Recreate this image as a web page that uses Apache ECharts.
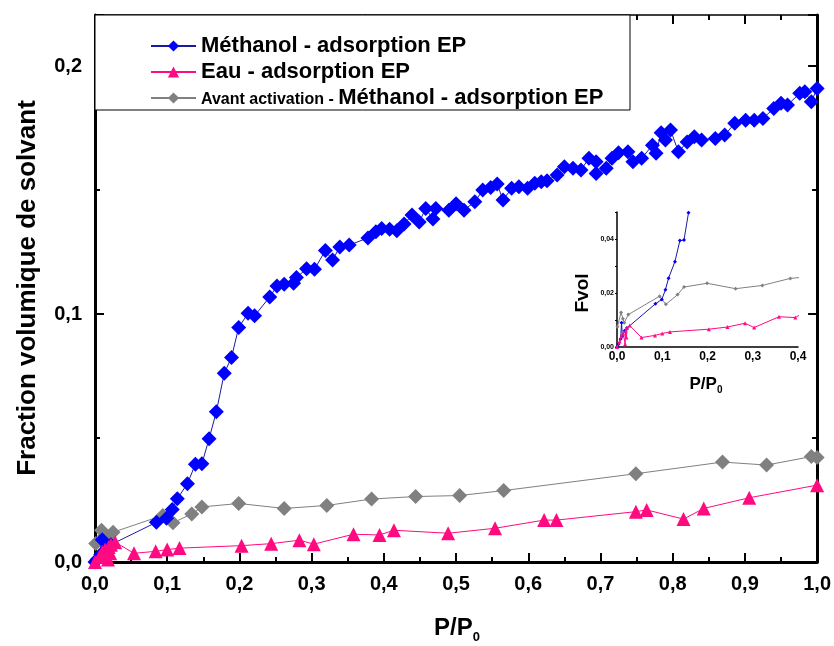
<!DOCTYPE html>
<html>
<head>
<meta charset="utf-8">
<script src="https://cdn.jsdelivr.net/npm/echarts@6/dist/echarts.min.js"></script>
<style>
html,body{margin:0;padding:0;background:#fff;}
#c{width:834px;height:646px;}
</style>
</head>
<body>
<div id="c"></div>
<script>
// ---- data (P/P0, volume fraction) ----
const methanolName = 'Méthanol - adsorption EP';
const eauName = 'Eau - adsorption EP';
const avantName = 'Avant activation - Méthanol - adsorption EP';

const methanolData = [
  [0.000,0.000],[0.003,0.001],[0.008,0.003],[0.010,0.009],[0.012,0.004],[0.017,0.006],[0.022,0.007],
  [0.085,0.0160],[0.099,0.0176],[0.107,0.0212],[0.114,0.0255],[0.128,0.0316],[0.139,0.0394],[0.148,0.0396],
  [0.158,0.0497],[0.168,0.0606],[0.179,0.0761],[0.189,0.0825],[0.199,0.0946],[0.212,0.1003],[0.221,0.0993],
  [0.242,0.1069],[0.252,0.1113],[0.262,0.1120],[0.275,0.1124],[0.279,0.1147],[0.293,0.1183],[0.304,0.1181],
  [0.319,0.1256],[0.329,0.1218],[0.339,0.1270],[0.352,0.1278],[0.378,0.1307],[0.389,0.1332],[0.397,0.1345],
  [0.408,0.1342],[0.418,0.1336],[0.428,0.1363],[0.439,0.1399],[0.449,0.1371],[0.458,0.1426],[0.468,0.1383],
  [0.472,0.1426],[0.490,0.1419],[0.500,0.1445],[0.511,0.1419],[0.526,0.1453],[0.537,0.1500],[0.548,0.1510],
  [0.557,0.1524],[0.565,0.1460],[0.577,0.1507],[0.587,0.1513],[0.599,0.1507],[0.609,0.1527],[0.618,0.1534],
  [0.626,0.1538],[0.640,0.1561],[0.650,0.1594],[0.662,0.1588],[0.673,0.1581],[0.684,0.1628],[0.694,0.1614],
  [0.694,0.1567],[0.708,0.1588],[0.716,0.1628],[0.725,0.1650],[0.738,0.1654],[0.745,0.1614],[0.757,0.1628],
  [0.772,0.1681],[0.777,0.1648],[0.784,0.1731],[0.790,0.1702],[0.797,0.1742],[0.808,0.1654],[0.820,0.1694],
  [0.830,0.1715],[0.840,0.1702],[0.859,0.1708],[0.872,0.1722],[0.886,0.1769],[0.901,0.1782],[0.913,0.1782],
  [0.925,0.1789],[0.940,0.1829],[0.950,0.1850],[0.959,0.1843],[0.976,0.1890],[0.983,0.1896],[0.992,0.1856],
  [1.000,0.1910]
];

const eauData = [
  [0.000,0.000],[0.006,0.002],[0.010,0.004],[0.014,0.005],[0.018,0.001],[0.019,0.006],[0.021,0.0035],
  [0.022,0.007],[0.028,0.008],[0.054,0.0035],[0.084,0.0043],[0.100,0.0050],[0.117,0.0056],[0.203,0.0066],
  [0.244,0.0074],[0.283,0.0088],[0.303,0.0072],[0.358,0.0112],[0.394,0.0109],[0.414,0.0128],[0.489,0.0116],
  [0.554,0.0136],[0.622,0.0169],[0.639,0.0169],[0.749,0.0203],[0.764,0.0210],[0.815,0.0173],[0.843,0.0216],
  [0.906,0.0259],[1.000,0.0310]
];

const avantData = [
  [0.001,0.0075],[0.009,0.0128],[0.013,0.0105],[0.016,0.009],[0.025,0.012],[0.094,0.0188],[0.108,0.0158],
  [0.134,0.0194],[0.148,0.0222],[0.199,0.0236],[0.262,0.0216],[0.321,0.0228],[0.383,0.0254],[0.444,0.0264],
  [0.505,0.0268],[0.566,0.0288],[0.749,0.0356],[0.869,0.0403],[0.930,0.0391],[0.992,0.0425],[1.000,0.0421]
];

const mainYLabels = [0, 0.1, 0.2];
const insetYLabels = [0, 0.02, 0.04];

// ---- styling ----
const FONT = '"Liberation Sans", Arial, Helvetica, sans-serif';
const BLUE = '#0000FF', BLUE_LINE = '#1b1ba0';
const PINK = '#FF0A80';
const GRAY = '#808080';

const comma = (d) => (v) => v.toFixed(d).replace('.', ',');

function mainX(pos, labels, lw) {
  return {
    type: 'value', gridIndex: 0, position: pos, min: 0, max: 1, interval: 0.1,
    axisLine: {show: true, onZero: false, lineStyle: {color: '#000', width: lw}},
    axisTick: {show: true, inside: true, length: 9, lineStyle: {color: '#000', width: 2}},
    minorTick: {show: true, splitNumber: 2, length: 5, lineStyle: {color: '#000', width: 2}},
    splitLine: {show: false}, minorSplitLine: {show: false},
    axisLabel: {show: labels, formatter: comma(1), fontFamily: FONT, fontWeight: 'bold', fontSize: 20, color: '#000', margin: 12}
  };
}
function mainY(pos, labels, lw) {
  return {
    type: 'value', gridIndex: 0, position: pos, min: 0, max: 0.2206, interval: 0.1,
    axisLine: {show: true, onZero: false, lineStyle: {color: '#000', width: lw}},
    axisTick: {show: true, inside: true, length: 9, lineStyle: {color: '#000', width: 2}},
    minorTick: {show: true, splitNumber: 2, length: 5, lineStyle: {color: '#000', width: 2}},
    splitLine: {show: false}, minorSplitLine: {show: false},
    axisLabel: {show: labels, showMaxLabel: false, formatter: (v) => mainYLabels.indexOf(Math.round(v*10)/10) >= 0 ? comma(1)(v) : '',
      fontFamily: FONT, fontWeight: 'bold', fontSize: 20, color: '#000', margin: 13}
  };
}

const option = {
  animation: false,
  backgroundColor: '#fff',
  grid: [
    {left: 95, right: 15, top: 15, bottom: 84},
    {left: 617, top: 212, width: 181, height: 135}
  ],
  xAxis: [
    mainX('bottom', true, 3),
    mainX('top', false, 1.5),
    {
      type: 'value', gridIndex: 1, min: 0, max: 0.4, interval: 0.1,
      axisLine: {show: true, onZero: false, lineStyle: {color: '#000', width: 1.5}},
      axisTick: {show: false},
      splitLine: {show: false},
      axisLabel: {formatter: comma(1), fontFamily: FONT, fontWeight: 'bold', fontSize: 12, color: '#000', margin: 4}
    }
  ],
  yAxis: [
    mainY('left', true, 3),
    mainY('right', false, 3),
    {
      type: 'value', gridIndex: 1, min: 0, max: 0.05, interval: 0.01,
      axisLine: {show: true, onZero: false, lineStyle: {color: '#000', width: 1.5}},
      axisTick: {show: true, length: 2, lineStyle: {color: '#000', width: 1}},
      splitLine: {show: false},
      axisLabel: {formatter: (v) => insetYLabels.some(t => Math.abs(t - v) < 1e-6) ? comma(2)(v) : '',
        fontFamily: FONT, fontWeight: 'bold', fontSize: 7, color: '#000', margin: 3}
    }
  ],
  legend: {
    data: [methanolName, eauName, avantName],
    orient: 'vertical', left: 145, top: 30, itemWidth: 45, itemHeight: 14, itemGap: 4,
    z: 6,
    formatter: function (name) {
      if (name === avantName) return '{s|Avant activation - }{b|Méthanol - adsorption EP}';
      return '{b|' + name + '}';
    },
    textStyle: {
      color: '#000',
      rich: {
        b: {fontFamily: FONT, fontWeight: 'bold', fontSize: 22, lineHeight: 23, color: '#000'},
        s: {fontFamily: FONT, fontWeight: 'bold', fontSize: 16, lineHeight: 23, color: '#000', padding: [4, 0, 0, 0]}
      }
    }
  },
  series: [
    {name: avantName, type: 'line', xAxisIndex: 0, yAxisIndex: 0, data: avantData, symbol: 'diamond', symbolSize: 15,
      itemStyle: {color: GRAY}, lineStyle: {color: GRAY, width: 1}, z: 2},
    {name: methanolName, type: 'line', xAxisIndex: 0, yAxisIndex: 0, data: methanolData, symbol: 'diamond', symbolSize: 15,
      itemStyle: {color: BLUE}, lineStyle: {color: BLUE_LINE, width: 1}, z: 3},
    {name: eauName, type: 'line', xAxisIndex: 0, yAxisIndex: 0, data: eauData, symbol: 'triangle', symbolSize: 14,
      itemStyle: {color: PINK}, lineStyle: {color: PINK, width: 1}, z: 4},
    {name: avantName, type: 'line', xAxisIndex: 2, yAxisIndex: 2, data: avantData, symbol: 'diamond', symbolSize: 4, clip: true,
      itemStyle: {color: GRAY}, lineStyle: {color: GRAY, width: 1}, z: 2},
    {name: methanolName, type: 'line', xAxisIndex: 2, yAxisIndex: 2, data: methanolData, symbol: 'diamond', symbolSize: 4, clip: true,
      itemStyle: {color: BLUE}, lineStyle: {color: BLUE_LINE, width: 1}, z: 3},
    {name: eauName, type: 'line', xAxisIndex: 2, yAxisIndex: 2, data: eauData, symbol: 'triangle', symbolSize: 4, clip: true,
      itemStyle: {color: PINK}, lineStyle: {color: PINK, width: 1}, z: 4}
  ],
  graphic: [
    {type: 'rect', z: 5, shape: {x: 95, y: 15, width: 535, height: 95},
      style: {fill: '#fff', stroke: '#000', lineWidth: 1}},
    {type: 'text', z: 5, x: 28, y: 288, rotation: Math.PI / 2,
      style: {text: 'Fraction volumique de solvant', font: 'bold 26px ' + FONT, fill: '#000', align: 'center', verticalAlign: 'middle'}},
    {type: 'text', z: 5, x: 457, y: 628,
      style: {text: '{a|P/P}{b|0}', fill: '#000', align: 'center', verticalAlign: 'middle',
        rich: {a: {font: 'bold 24px ' + FONT, fill: '#000'}, b: {font: 'bold 13px ' + FONT, fill: '#000', padding: [18, 0, 0, 0]}}}},
    {type: 'text', z: 5, x: 583, y: 293, rotation: Math.PI / 2,
      style: {text: 'Fvol', font: 'bold 19px ' + FONT, fill: '#000', align: 'center', verticalAlign: 'middle'}},
    {type: 'text', z: 5, x: 706, y: 384,
      style: {text: '{a|P/P}{b|0}', fill: '#000', align: 'center', verticalAlign: 'middle',
        rich: {a: {font: 'bold 17px ' + FONT, fill: '#000'}, b: {font: 'bold 10px ' + FONT, fill: '#000', padding: [12, 0, 0, 0]}}}}
  ]
};

const chart = echarts.init(document.getElementById('c'), null, {renderer: 'canvas'});
chart.setOption(option);
</script>
</body>
</html>
